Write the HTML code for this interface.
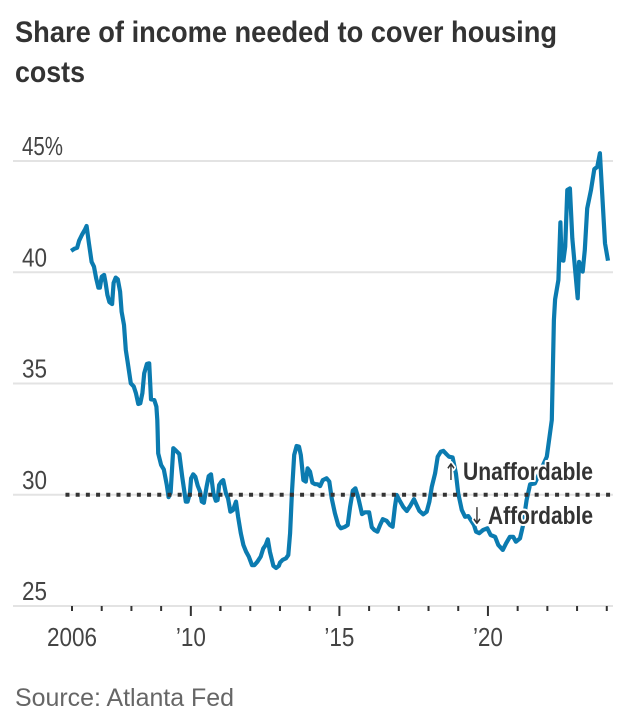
<!DOCTYPE html>
<html lang="en">
<head>
<meta charset="utf-8">
<title>Share of income needed to cover housing costs</title>
<style>
html,body{margin:0;padding:0;background:#fff;}
body{width:644px;height:728px;overflow:hidden;}
svg{display:block;font-family:"Liberation Sans",sans-serif;}
.tick{font-size:26px;fill:#444;}
.note{font-size:25px;font-weight:700;fill:#333;stroke:#fff;stroke-width:4px;paint-order:stroke;stroke-linejoin:round;}
.arrow{font-family:"DejaVu Sans",sans-serif;font-size:23px;font-weight:400;}
</style>
</head>
<body>
<svg id="chart" xmlns="http://www.w3.org/2000/svg" width="644" height="728" viewBox="0 0 644 728">
  <text x="15" y="42" font-size="29.5" font-weight="700" fill="#333" textLength="542" lengthAdjust="spacingAndGlyphs">Share of income needed to cover housing</text>
  <text x="15" y="82" font-size="29.5" font-weight="700" fill="#333" textLength="70" lengthAdjust="spacingAndGlyphs">costs</text>
  <g id="grid"></g>
  <g id="ylabels"></g>
  <g id="xticks"></g>
  <g id="xlabels"></g>
  <path id="series" fill="none" stroke="#0b7bb0" stroke-width="4.2" stroke-linejoin="round" stroke-linecap="butt"></path>
  <line id="threshold" stroke="#333" stroke-width="4" stroke-dasharray="4 6.2"></line>
  <text class="note arrow" x="444" y="480" textLength="14" lengthAdjust="spacingAndGlyphs">↑</text>
  <text class="note" x="463" y="480" textLength="130" lengthAdjust="spacingAndGlyphs">Unaffordable</text>
  <text class="note arrow" x="470" y="524" textLength="14" lengthAdjust="spacingAndGlyphs">↓</text>
  <text class="note" x="488" y="524" textLength="105" lengthAdjust="spacingAndGlyphs">Affordable</text>
  <text x="15" y="706" font-size="25" fill="#666" textLength="219" lengthAdjust="spacingAndGlyphs">Source: Atlanta Fed</text>
</svg>
<script>
const dates = [2005.97,2006.08,2006.17,2006.24,2006.33,2006.44,2006.49,2006.57,2006.66,2006.74,2006.81,2006.89,2006.94,2007.00,2007.08,2007.13,2007.19,2007.26,2007.35,2007.40,2007.47,2007.54,2007.62,2007.67,2007.75,2007.81,2007.87,2007.98,2008.08,2008.15,2008.23,2008.30,2008.37,2008.43,2008.52,2008.60,2008.66,2008.77,2008.84,2008.87,2008.88,2008.90,2009.00,2009.09,2009.19,2009.25,2009.32,2009.41,2009.50,2009.61,2009.71,2009.83,2009.89,2009.97,2010.01,2010.08,2010.15,2010.23,2010.31,2010.37,2010.44,2010.53,2010.60,2010.68,2010.76,2010.84,2010.90,2010.95,2011.03,2011.09,2011.18,2011.25,2011.33,2011.42,2011.52,2011.59,2011.68,2011.77,2011.86,2011.95,2012.06,2012.14,2012.24,2012.35,2012.44,2012.52,2012.59,2012.66,2012.78,2012.87,2012.96,2013.00,2013.09,2013.20,2013.28,2013.34,2013.40,2013.48,2013.56,2013.64,2013.70,2013.79,2013.87,2013.93,2014.01,2014.09,2014.18,2014.27,2014.35,2014.44,2014.57,2014.66,2014.74,2014.85,2014.96,2015.05,2015.19,2015.28,2015.36,2015.45,2015.54,2015.64,2015.76,2015.86,2016.00,2016.09,2016.17,2016.28,2016.37,2016.46,2016.59,2016.70,2016.79,2016.87,2016.93,2017.02,2017.15,2017.27,2017.38,2017.51,2017.60,2017.69,2017.82,2017.94,2018.03,2018.11,2018.22,2018.31,2018.41,2018.50,2018.61,2018.69,2018.81,2018.92,2019.00,2019.12,2019.23,2019.34,2019.53,2019.60,2019.71,2019.84,2019.98,2020.09,2020.24,2020.35,2020.50,2020.61,2020.74,2020.85,2020.94,2021.08,2021.17,2021.30,2021.42,2021.58,2021.98,2022.15,2022.22,2022.26,2022.37,2022.44,2022.48,2022.54,2022.60,2022.67,2022.76,2022.84,2023.02,2023.07,2023.19,2023.26,2023.34,2023.47,2023.58,2023.68,2023.77,2023.94,2024.04];
const shares = [40.96,41.06,41.10,41.42,41.67,41.93,42.08,41.31,40.47,40.25,39.74,39.31,39.31,39.80,39.88,39.52,38.98,38.66,38.57,39.52,39.76,39.68,39.13,38.23,37.63,36.51,35.98,35.01,34.86,34.57,34.08,34.11,34.57,35.46,35.88,35.91,34.29,34.26,33.96,33.36,32.91,31.86,31.34,31.14,30.44,29.89,30.09,32.09,31.98,31.83,30.81,29.69,29.69,30.07,30.74,30.92,30.81,30.41,30.14,29.69,29.64,30.36,30.84,30.92,30.07,29.73,29.76,30.44,30.59,30.66,30.07,29.84,29.24,29.31,29.69,29.01,28.27,27.74,27.44,27.22,26.84,26.84,26.99,27.22,27.59,27.74,28.00,27.44,26.80,26.71,26.80,26.95,27.07,27.14,27.29,28.27,30.07,31.79,32.19,32.16,31.79,30.66,30.59,31.19,31.04,30.54,30.48,30.47,30.39,30.66,30.74,30.59,29.84,29.17,28.64,28.49,28.56,28.64,29.46,30.18,30.29,29.84,29.13,29.21,29.21,28.54,28.42,28.34,28.64,28.90,28.83,28.64,28.56,29.46,29.99,29.76,29.45,29.27,29.49,29.80,29.54,29.28,29.12,29.24,29.69,30.36,30.96,31.71,31.93,31.97,31.82,31.71,31.68,30.96,30.07,29.31,29.01,29.04,28.64,28.34,28.27,28.42,28.49,28.19,28.11,27.74,27.52,27.82,28.11,28.11,27.89,28.04,28.56,29.76,30.47,30.51,31.71,33.36,37.85,38.78,39.65,42.24,40.55,40.52,41.15,43.70,43.77,41.53,38.83,40.47,40.03,41.00,42.87,43.70,44.63,44.74,45.35,41.30,40.52];
const yTicks = [25,30,35,40,45];
const yTickLabels = ['25','30','35','40','45%'];
const tickYears = [2006,2007,2008,2009,2010,2011,2012,2013,2014,2015,2016,2017,2018,2019,2020,2021,2022,2023,2024];
const majorYears = [2010,2015,2020];
const labelYears = [2006,2010,2015,2020];
const xTickLabels = ['2006','’10','’15','’20'];
const thresholdValue = 30;
const thresholdRange = [2005.78,2024.15];

const NS = 'http://www.w3.org/2000/svg';
function xScale(year){ return 72 + (year - 2006) * 29.71; }
function yScale(value){ return 606 - (value - 25) * 22.25; }

const grid = document.getElementById('grid');
const ylabels = document.getElementById('ylabels');
yTicks.forEach(function(v, i){
  const ln = document.createElementNS(NS, 'line');
  
  
  ln.setAttribute('x1', 13);
  ln.setAttribute('x2', 613);
  ln.setAttribute('y1', yScale(v));
  ln.setAttribute('y2', yScale(v));
  ln.setAttribute('stroke', '#e3e3e3');
  ln.setAttribute('stroke-width', 2);
  grid.appendChild(ln);
  const t = document.createElementNS(NS, 'text');
  
  
  t.setAttribute('class', 'tick');
  t.setAttribute('x', 22);
  t.setAttribute('y', yScale(v) - 6);
  t.setAttribute('textLength', yTickLabels[i].length > 2 ? 41 : 25);
  t.setAttribute('lengthAdjust', 'spacingAndGlyphs');
  t.textContent = yTickLabels[i];
  ylabels.appendChild(t);
});

const xticks = document.getElementById('xticks');
tickYears.forEach(function(y){
  const major = majorYears.indexOf(y) >= 0;
  const tk = document.createElementNS(NS, 'line');
  
  
  tk.setAttribute('x1', xScale(y));
  tk.setAttribute('x2', xScale(y));
  tk.setAttribute('y1', 606);
  tk.setAttribute('y2', major ? 616 : 611);
  tk.setAttribute('stroke', '#333');
  tk.setAttribute('stroke-width', 2);
  xticks.appendChild(tk);
});

const xlabels = document.getElementById('xlabels');
labelYears.forEach(function(y, i){
  const t = document.createElementNS(NS, 'text');
  
  
  t.setAttribute('class', 'tick');
  t.setAttribute('x', xScale(y));
  t.setAttribute('y', 646);
  t.setAttribute('text-anchor', 'middle');
  t.setAttribute('textLength', xTickLabels[i].length > 3 ? 50 : 30);
  t.setAttribute('lengthAdjust', 'spacingAndGlyphs');
  t.textContent = xTickLabels[i];
  xlabels.appendChild(t);
});

document.getElementById('series').setAttribute('d', dates.map(function(d, i){
  return (i ? 'L' : 'M') + xScale(d).toFixed(1) + ' ' + yScale(shares[i]).toFixed(1);
}).join(' '));

const th = document.getElementById('threshold');
th.setAttribute('x1', xScale(thresholdRange[0]));
th.setAttribute('x2', xScale(thresholdRange[1]));
th.setAttribute('y1', yScale(thresholdValue));
th.setAttribute('y2', yScale(thresholdValue));
</script>
</body>
</html>
